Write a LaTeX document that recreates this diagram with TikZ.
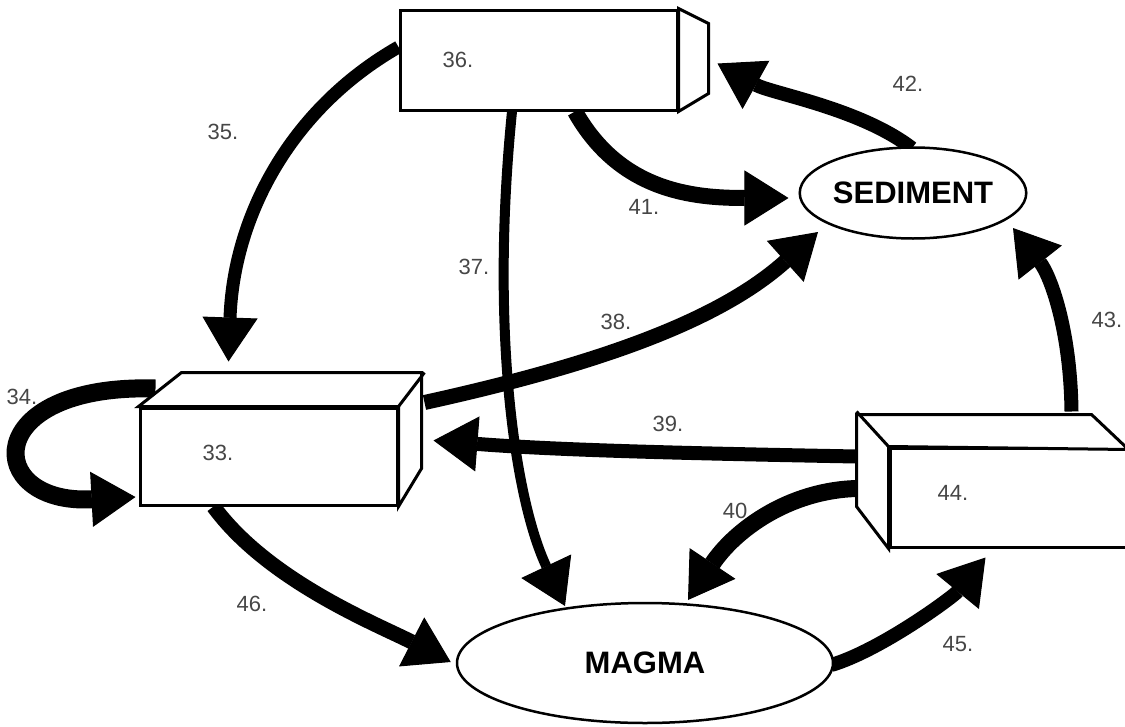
\documentclass[tikz,border=0pt]{standalone}
\usepackage{fontspec}
\setmainfont{Liberation Sans}
\usepackage{tikz}
\usetikzlibrary{shapes.geometric,arrows.meta,positioning,backgrounds,calc}
\definecolor{cyclegray}{RGB}{70,70,70}

\begin{document}
\begin{tikzpicture}[x=1pt, y=-1pt,
    rockbox/.style={draw, fill=white, line width=3pt, inner sep=0pt},
    rockface/.style={draw, fill=white, line width=3pt, line join=miter},
    stage/.style={ellipse, draw, fill=white, line width=2.5pt, inner sep=0pt, font=\fontsize{31}{31}\selectfont\bfseries},
    numlbl/.style={font=\fontsize{22}{22}\selectfont, text=cyclegray, inner sep=0pt},
    flow/.style={line width=#1, -{Triangle[length=44pt,width=55pt,line width=1pt]}},
    flow/.default=15pt]
    \useasboundingbox (0,0) rectangle (1125,726);

    % Rock boxes
    \node[rockbox, minimum width=277pt, minimum height=100pt] (b36) at (538.5,60) {};
    \draw[rockface] (b36.north east) -- ++(30,15) -- ++(0,70) -- (b36.south east) -- cycle;

    \node[rockbox, minimum width=257pt, minimum height=97pt] (b33) at (268.5,456.5) {};
    \draw[rockface] (b33.north west) -- ++(43,-34) -- ++(240,0) -- ++(0,96) -- (b33.south east) -- (b33.north east) -- cycle;
    \draw[line width=3pt] (b33.north east) -- ++(26,-34);

    \node[rockbox, minimum width=240pt, minimum height=99pt] (b44) at (1010,497.5) {};
    \draw[rockface] (b44.south west) -- ++(-32,-42) -- ++(0,-92) -- ++(235,0) -- ++(37,35) -- (b44.north west) -- cycle;
    \draw[line width=3pt] (b44.north west) -- ++(-32,-35);

    % Sediment and magma
    \node[stage, minimum width=217pt, minimum height=91pt] (sed) at (913,193) {SEDIMENT};
    \node[stage, minimum width=376pt, minimum height=120pt] (magma) at (645,663) {MAGMA};

    % Numbers
    \node[numlbl] (l33) at (218,453) {33.};
    \node[numlbl] (l34) at (22,397) {34.};
    \node[numlbl] (l35) at (223,132) {35.};
    \node[numlbl] (l36) at (458,60) {36.};
    \node[numlbl] (l37) at (474,267) {37.};
    \node[numlbl] (l38) at (616,322) {38.};
    \node[numlbl] (l39) at (668,424) {39.};
    \node[numlbl] (l40) at (735,511) {40};
    \node[numlbl] (l41) at (644,207) {41.};
    \node[numlbl] (l42) at (908,84) {42.};
    \node[numlbl] (l43) at (1107,320) {43.};
    \node[numlbl] (l44) at (953,493) {44.};
    \node[numlbl] (l45) at (958,644) {45.};
    \node[numlbl] (l46) at (252,604) {46.};

    % Arrows behind the boxes
    \begin{scope}[on background layer]
    \draw[flow=18pt] ($(b33.north west)+(17,-18)$) .. controls +(-177,-5) and +(-152,8) .. ($(b33.west)+(-3,40.5)$);
    \draw[flow=13pt] ($(b36.west)+(0,-13)$) .. controls +(-110,63) and +(5,-143) .. ($(b33.north west)+(90,-45)$);
    \draw[flow=10pt] ($(b36.south)+(-26.5,0)$) .. controls +(-22,220) and +(-50,-106) .. ($(magma.center)+(-80,-57)$);
    \draw[flow=16pt] ($(b36.south)+(36.5,0)$) .. controls +(45,80) and +(-95,0) .. ($(sed.west)+(-10,5)$);
    \draw[flow] ($(b33.north east)+(26,-4)$) .. controls +(177,-39) and +(-98,88) .. ($(sed.center)+(-95,39)$);
    \draw[flow=14pt] ($(b44.north west)+(-32,10)$) .. controls +(-158,-3) and +(128,10) .. ($(b33.north east)+(35,34)$);
    \draw[flow=17pt] ($(b44.north west)+(-32,42)$) .. controls +(-68,2) and +(47,-70) .. ($(magma.center)+(43,-63)$);
    \draw[flow=14pt] ($(sed.north)+(-1,2)$) .. controls +(-52,-40) and +(54,30) .. ($(b36.north east)+(39,55)$);
    \draw[flow=14pt] ($(b44.north west)+(183,-35)$) .. controls +(-1,-83) and +(37,47) .. ($(sed.center)+(100,35)$);
    \draw[flow=14pt] ($(magma.east)+(-3,2)$) .. controls +(50,-15) and +(-32,39) .. ($(b44.south west)+(97,9)$);
    \draw[flow] ($(b33.south west)+(75,0)$) .. controls +(55,75) and +(-72,-37) .. ($(magma.west)+(-5,-1)$);
    \end{scope}
\end{tikzpicture}
\end{document}
